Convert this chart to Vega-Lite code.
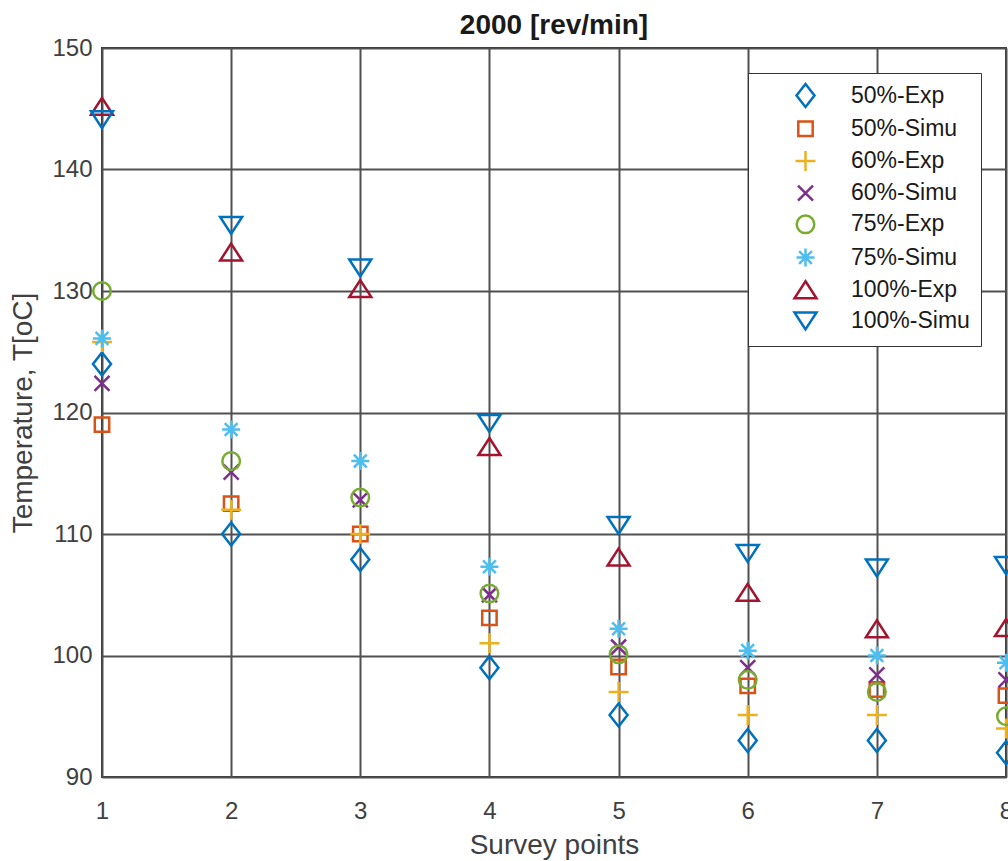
{
  "$schema": "https://vega.github.io/schema/vega-lite/v6.json",
  "autosize": {"type": "none"},
  "padding": {"left": 102, "top": 48, "right": 2, "bottom": 84},
  "width": 904,
  "height": 729,
  "background": "white",
  "title": {"text": "2000 [rev/min]", "font": "Liberation Sans", "fontSize": 28, "fontWeight": "bold", "color": "#1a1a1a", "anchor": "middle", "frame": "group", "offset": -4},
  "config": {
    "view": {"stroke": "#333333", "strokeWidth": 2},
    "font": "Liberation Sans"
  },
  "data": {"values": [
    {"series": "50%-Exp", "point": 1, "T": 124.0},
    {"series": "50%-Exp", "point": 2, "T": 110.0},
    {"series": "50%-Exp", "point": 3, "T": 107.9},
    {"series": "50%-Exp", "point": 4, "T": 99.0},
    {"series": "50%-Exp", "point": 5, "T": 95.1},
    {"series": "50%-Exp", "point": 6, "T": 93.0},
    {"series": "50%-Exp", "point": 7, "T": 93.0},
    {"series": "50%-Exp", "point": 8, "T": 92.0},
    {"series": "50%-Simu", "point": 1, "T": 119.0},
    {"series": "50%-Simu", "point": 2, "T": 112.5},
    {"series": "50%-Simu", "point": 3, "T": 110.0},
    {"series": "50%-Simu", "point": 4, "T": 103.1},
    {"series": "50%-Simu", "point": 5, "T": 99.05},
    {"series": "50%-Simu", "point": 6, "T": 97.5},
    {"series": "50%-Simu", "point": 7, "T": 97.2},
    {"series": "50%-Simu", "point": 8, "T": 96.7},
    {"series": "60%-Exp", "point": 1, "T": 125.8},
    {"series": "60%-Exp", "point": 2, "T": 112.0},
    {"series": "60%-Exp", "point": 3, "T": 110.0},
    {"series": "60%-Exp", "point": 4, "T": 101.0},
    {"series": "60%-Exp", "point": 5, "T": 97.0},
    {"series": "60%-Exp", "point": 6, "T": 95.1},
    {"series": "60%-Exp", "point": 7, "T": 95.1},
    {"series": "60%-Exp", "point": 8, "T": 94.0},
    {"series": "60%-Simu", "point": 1, "T": 122.4},
    {"series": "60%-Simu", "point": 2, "T": 115.1},
    {"series": "60%-Simu", "point": 3, "T": 112.8},
    {"series": "60%-Simu", "point": 4, "T": 105.0},
    {"series": "60%-Simu", "point": 5, "T": 100.7},
    {"series": "60%-Simu", "point": 6, "T": 99.0},
    {"series": "60%-Simu", "point": 7, "T": 98.4},
    {"series": "60%-Simu", "point": 8, "T": 98.0},
    {"series": "75%-Exp", "point": 1, "T": 130.0},
    {"series": "75%-Exp", "point": 2, "T": 116.0},
    {"series": "75%-Exp", "point": 3, "T": 113.0},
    {"series": "75%-Exp", "point": 4, "T": 105.1},
    {"series": "75%-Exp", "point": 5, "T": 100.1},
    {"series": "75%-Exp", "point": 6, "T": 98.0},
    {"series": "75%-Exp", "point": 7, "T": 97.0},
    {"series": "75%-Exp", "point": 8, "T": 95.0},
    {"series": "75%-Simu", "point": 1, "T": 126.1},
    {"series": "75%-Simu", "point": 2, "T": 118.6},
    {"series": "75%-Simu", "point": 3, "T": 116.0},
    {"series": "75%-Simu", "point": 4, "T": 107.3},
    {"series": "75%-Simu", "point": 5, "T": 102.2},
    {"series": "75%-Simu", "point": 6, "T": 100.4},
    {"series": "75%-Simu", "point": 7, "T": 100.0},
    {"series": "75%-Simu", "point": 8, "T": 99.4},
    {"series": "100%-Exp", "point": 1, "T": 145.2},
    {"series": "100%-Exp", "point": 2, "T": 133.2},
    {"series": "100%-Exp", "point": 3, "T": 130.2},
    {"series": "100%-Exp", "point": 4, "T": 117.2},
    {"series": "100%-Exp", "point": 5, "T": 108.1},
    {"series": "100%-Exp", "point": 6, "T": 105.2},
    {"series": "100%-Exp", "point": 7, "T": 102.2},
    {"series": "100%-Exp", "point": 8, "T": 102.3},
    {"series": "100%-Simu", "point": 1, "T": 144.1},
    {"series": "100%-Simu", "point": 2, "T": 135.4},
    {"series": "100%-Simu", "point": 3, "T": 131.9},
    {"series": "100%-Simu", "point": 4, "T": 119.1},
    {"series": "100%-Simu", "point": 5, "T": 110.7},
    {"series": "100%-Simu", "point": 6, "T": 108.4},
    {"series": "100%-Simu", "point": 7, "T": 107.2},
    {"series": "100%-Simu", "point": 8, "T": 107.4}
  ]},
  "mark": {"type": "point", "filled": false, "size": 400, "strokeWidth": 2.5, "opacity": 1, "clip": false},
  "encoding": {
    "x": {
      "field": "point", "type": "quantitative",
      "scale": {"domain": [1, 8], "nice": false, "zero": false},
      "axis": {
        "values": [1, 2, 3, 4, 5, 6, 7, 8], "format": "d", "title": "Survey points",
        "grid": true, "gridColor": "#505050", "gridWidth": 2, "gridOpacity": 1,
        "domain": false, "ticks": false, "labelFlush": false,
        "labelFont": "Liberation Sans", "labelFontSize": 24, "labelColor": "#404040", "labelPadding": 22,
        "titleFont": "Liberation Sans", "titleFontSize": 28, "titleFontWeight": "normal", "titleColor": "#404040", "titlePadding": 8
      }
    },
    "y": {
      "field": "T", "type": "quantitative",
      "scale": {"domain": [90, 150], "nice": false, "zero": false},
      "axis": {
        "values": [90, 100, 110, 120, 130, 140, 150], "title": "Temperature, T[oC]",
        "grid": true, "gridColor": "#505050", "gridWidth": 2, "gridOpacity": 1,
        "domain": false, "ticks": false, "labelFlush": false,
        "labelFont": "Liberation Sans", "labelFontSize": 24, "labelColor": "#404040", "labelPadding": 10,
        "titleFont": "Liberation Sans", "titleFontSize": 28, "titleFontWeight": "normal", "titleColor": "#404040", "titlePadding": 14
      }
    },
    "color": {
      "field": "series", "type": "nominal",
      "scale": {
        "domain": ["50%-Exp", "50%-Simu", "60%-Exp", "60%-Simu", "75%-Exp", "75%-Simu", "100%-Exp", "100%-Simu"],
        "range": ["#0072BD", "#D95319", "#EDB120", "#7E2F8E", "#77AC30", "#4DBEEE", "#A2142F", "#0072BD"]
      },
      "legend": {
        "title": null, "orient": "none", "legendX": 646, "legendY": 25,
        "fillColor": "white", "strokeColor": "#333333", "padding": 11, "cornerRadius": 0,
        "symbolSize": 400, "symbolStrokeWidth": 2.5, "symbolOffset": 35, "symbolFillColor": "transparent",
        "labelFont": "Liberation Sans", "labelFontSize": 23, "labelColor": "#1a1a1a", "labelOffset": 34,
        "rowPadding": 4.2, "labelLimit": 300
      }
    },
    "shape": {
      "field": "series", "type": "nominal",
      "scale": {
        "domain": ["50%-Exp", "50%-Simu", "60%-Exp", "60%-Simu", "75%-Exp", "75%-Simu", "100%-Exp", "100%-Simu"],
        "range": [
          "M0,-1.15L0.9,0L0,1.15L-0.9,0Z",
          "M-0.72,-0.72L0.72,-0.72L0.72,0.72L-0.72,0.72Z",
          "M-1,0L1,0M0,-1L0,1",
          "M-0.75,-0.75L0.75,0.75M-0.75,0.75L0.75,-0.75",
          "M0.88,0A0.88,0.88,0,1,1,-0.88,0A0.88,0.88,0,1,1,0.88,0Z",
          "M-0.9,0L0.9,0M0,-0.9L0,0.9M-0.64,-0.64L0.64,0.64M-0.64,0.64L0.64,-0.64",
          "M0,-0.85L1.1,0.85L-1.1,0.85Z",
          "M0,0.85L1.1,-0.85L-1.1,-0.85Z"
        ]
      },
      "legend": null
    }
  }
}
